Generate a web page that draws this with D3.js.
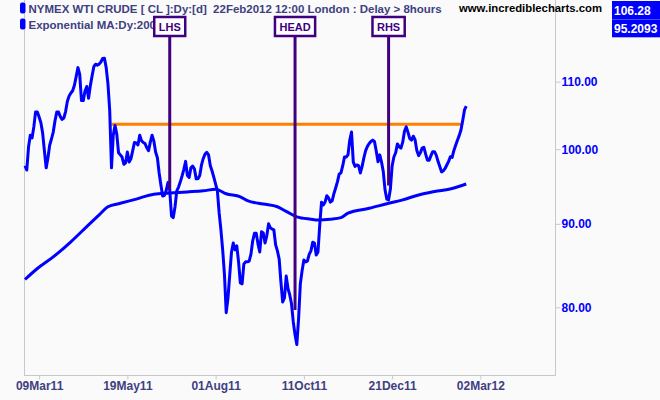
<!DOCTYPE html>
<html><head><meta charset="utf-8">
<script src="https://cdn.jsdelivr.net/npm/d3@7"></script>
<style>
body{margin:0;background:#fafafa;}
svg{display:block;font-family:"Liberation Sans",Arial,Helvetica,sans-serif;}
</style>
</head><body>
<svg id="chart" width="660" height="400"></svg>
<script>
// ---- DATA ----
// Daily closes, trading-day index 0 = 25Feb2011 ... 250 = 22Feb2012
const priceClose = [
97.7,97.1,100.3,102.0,101.6,103.2,105.4,105.4,104.65,103.8,
102.3,99.76,97.4,98.8,100.6,101.45,102.45,104.1,105.4,105.4,
104.7,104.3,104.5,105.45,107.0,107.8,108.25,108.6,109.45,110.8,
112.2,111.15,107.1,107.1,108.55,109.25,107.45,109.35,110.9,112.35,
112.75,112.6,112.75,113.1,113.65,113.7,112.2,109.65,105.6,97.4,
102.0,103.4,102.15,99.5,99.2,98.9,97.9,98.1,99.6,98.2,
98.65,99.76,100.95,100.9,100.6,102.0,101.2,100.95,100.8,100.2,
99.8,101.0,102.0,101.15,99.6,98.8,96.7,95.07,93.6,93.7,
94.35,95.4,94.4,91.0,90.8,92.2,94.3,94.8,95.5,96.3,
97.2,98.3,96.35,96.1,97.4,97.66,97.24,95.9,95.9,96.35,
97.8,98.7,99.3,99.55,99.2,97.7,96.96,96.1,95.2,94.3,
91.4,89.23,86.75,83.8,79.4,81.06,83.74,86.5,87.6,86.75,
87.24,85.3,82.8,82.7,85.05,85.3,85.3,85.4,86.2,87.85,
88.8,88.8,87.5,86.5,89.0,88.85,87.6,88.5,90.0,89.5,
89.35,89.23,87.36,86.63,85.65,82.9,80.6,81.06,83.6,82.15,
81.41,80.4,78.37,76.95,75.9,78.7,82.7,84.25,85.53,85.3,
85.4,86.2,86.63,87.7,87.6,86.14,86.5,89.86,92.8,92.43,
92.8,93.65,93.35,92.8,92.97,93.9,94.67,95.5,96.55,96.7,
97.66,98.9,98.9,99.2,101.3,102.45,98.2,97.6,97.8,97.7,
96.7,97.6,98.8,99.8,100.4,100.8,101.1,101.3,101.1,99.76,
98.25,99.2,98.2,96.86,94.4,93.2,93.1,94.5,97.66,98.9,
99.5,100.75,100.35,100.15,101.0,102.55,103.2,102.4,101.5,101.3,
101.85,101.35,99.8,99.1,99.5,100.15,100.27,99.3,98.46,98.46,
99.1,99.65,99.65,99.17,98.3,97.58,96.85,97.0,97.32,97.8,
98.3,98.95,98.85,99.83,100.55,101.27,101.93,102.75,104.13,105.7,106.28
];
// 200-day exponential moving average (read at sample days)
const emaDays   = [0,7,16,26,35,42,47,54,63,73,82,92,101,108,114,122,126,135,143,148,154,162,166,173,179,183,195,206,214,223,232,242,250];
const emaValues = [83.2,84.5,85.9,87.75,89.65,91.14,92.2,92.65,93.2,93.85,94.0,94.15,94.3,94.5,93.9,93.5,93.0,92.55,92.2,91.6,90.9,90.6,90.5,90.6,90.8,91.37,92.0,92.65,93.1,93.75,94.2,94.6,95.2093];

const xTickDays   = [8,58,108,158,208,258];
const xTickLabels = ["09Mar11","19May11","01Aug11","11Oct11","21Dec11","02Mar12"];
const yTickValues = [80,90,100,110];

const necklineValue = 103.6;
const necklineDays  = [49,248];

const patternLabels = ["LHS","HEAD","RHS"];
const patternDays   = [82,153,206];
const patternLows   = [94.4,79.7,95.0];

const titleLine1 = "NYMEX WTI CRUDE [ CL ]:Dy:[d]  22Feb2012 12:00 London : Delay > 8hours";
const titleLine2 = "Exponential MA:Dy:200:[d]";
const siteText   = "www.incrediblecharts.com";
const lastValues = ["106.28","95.2093"];

// ---- CHART ----
const svg = d3.select("#chart");
const W = 660, H = 400;
const plot = {left:24, right:555, top:0, bottom:375};

svg.append("rect").attr("width",W).attr("height",H).attr("fill","#fafafa");

const x = d3.scaleLinear().domain([0,250]).range([25, 25 + 250*1.765]);
const y = d3.scaleLog().domain([72.71,123.44]).range([plot.bottom, plot.top]);

// frame
const frameColor = "#c8c8c8";
svg.append("line").attr("x1",plot.left+0.5).attr("x2",plot.left+0.5).attr("y1",0).attr("y2",plot.bottom).attr("stroke",frameColor);
svg.append("line").attr("x1",plot.right+0.5).attr("x2",plot.right+0.5).attr("y1",0).attr("y2",plot.bottom).attr("stroke",frameColor);
svg.append("line").attr("x1",plot.left).attr("x2",plot.right+1).attr("y1",plot.bottom+0.5).attr("y2",plot.bottom+0.5).attr("stroke",frameColor);

// y axis (right)
const yAxis = d3.axisRight(y).tickValues(yTickValues).tickFormat(d3.format(".2f")).tickSize(5).tickPadding(1);
const gy = svg.append("g").attr("transform",`translate(${plot.right+0.5},0)`).call(yAxis);
gy.select(".domain").remove();
gy.selectAll(".tick line").attr("stroke",frameColor);
gy.selectAll(".tick text").attr("fill","#0000ff").attr("font-size",12).attr("font-weight","bold")
  .attr("font-family","'Liberation Sans',Arial,sans-serif");

// x axis
const xAxis = d3.axisBottom(x).tickValues(xTickDays).tickFormat((d,i)=>xTickLabels[i]).tickSize(4).tickPadding(2);
const gx = svg.append("g").attr("transform",`translate(0,${plot.bottom+0.5})`).call(xAxis);
gx.select(".domain").remove();
gx.selectAll(".tick line").attr("stroke",frameColor);
gx.selectAll(".tick text").attr("fill","#404080").attr("font-size",12).attr("font-weight","bold")
  .attr("font-family","'Liberation Sans',Arial,sans-serif");

// neckline (orange)
svg.append("line")
  .attr("x1",x(necklineDays[0])).attr("x2",x(necklineDays[1]))
  .attr("y1",y(necklineValue)).attr("y2",y(necklineValue))
  .attr("stroke","#ff8000").attr("stroke-width",3);

// EMA
const emaData = emaDays.map((d,i)=>[d,emaValues[i]]);
svg.append("path").datum(emaData)
  .attr("d", d3.line().x(d=>x(d[0])).y(d=>y(d[1])).curve(d3.curveMonotoneX))
  .attr("fill","none").attr("stroke","#0000ff").attr("stroke-width",3).attr("stroke-linejoin","round");

// price
svg.append("path").datum(priceClose)
  .attr("d", d3.line().x((d,i)=>x(i)).y(d=>y(d)))
  .attr("fill","none").attr("stroke","#0000ff").attr("stroke-width",3).attr("stroke-linejoin","round");

// legend
const legendScale = 1.043;
[[titleLine1,12.5,2.5],[titleLine2,28.5,18.5]].forEach(([txt,by,my])=>{
  svg.append("rect").attr("x",20).attr("y",my).attr("width",5.5).attr("height",11).attr("rx",2)
    .attr("fill","#0000ff");
  const t = svg.append("text").attr("x",28.5).attr("y",by).attr("font-size",11).attr("font-weight","bold")
    .attr("fill","#404080").style("white-space","pre").text(txt);
  const w = t.node().getComputedTextLength();
  t.attr("textLength", w*legendScale).attr("lengthAdjust","spacingAndGlyphs");
});

// pattern annotations (drawn above legend)
const purple = "#400080";
patternLabels.forEach((lab,i)=>{
  const cx = x(patternDays[i]);
  svg.append("line").attr("x1",cx).attr("x2",cx).attr("y1",36).attr("y2",y(patternLows[i]))
    .attr("stroke",purple).attr("stroke-width",3);
  const g = svg.append("g");
  const r = g.append("rect");
  const t = g.append("text").attr("x",cx).attr("y",31).attr("text-anchor","middle")
    .attr("font-size",11).attr("font-weight","bold").attr("fill",purple).text(lab);
  const w = t.node().getComputedTextLength() + 9;
  r.attr("x",cx - w/2).attr("y",17).attr("width",w).attr("height",19)
   .attr("fill","#ffffff").attr("stroke",purple).attr("stroke-width",2.5);
});

const site = svg.append("text").attr("x",459).attr("y",12).attr("font-size",11).attr("font-weight","bold")
  .attr("fill","#000000").text(siteText);
site.attr("textLength",143).attr("lengthAdjust","spacingAndGlyphs");

// last value boxes
lastValues.forEach((v,i)=>{
  svg.append("rect").attr("x",612).attr("y",1 + i*18.3).attr("width",48).attr("height",18)
    .attr("fill","#0000ff");
  svg.append("text").attr("x",614).attr("y",15 + i*18.3).attr("font-size",12).attr("font-weight","bold")
    .attr("fill","#ffffff").text(v);
});
</script>
</body></html>
